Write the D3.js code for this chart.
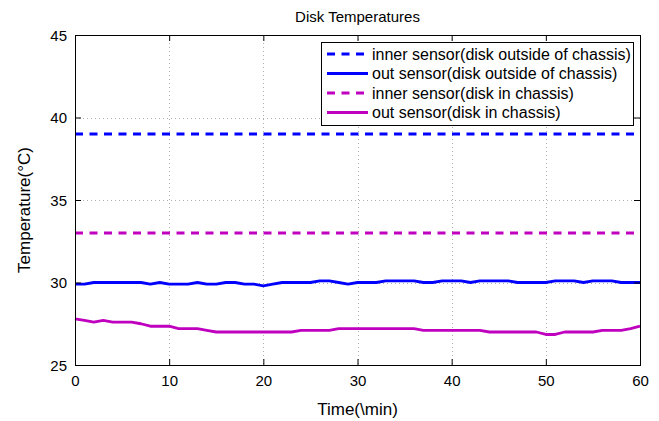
<!DOCTYPE html>
<html>
<head>
<meta charset="utf-8">
<script src="https://cdn.jsdelivr.net/npm/d3@7"></script>
<style>
  html, body { margin: 0; padding: 0; background: #fff; }
  svg { display: block; font-family: "Liberation Sans", Arial, Helvetica, sans-serif; }
</style>
</head>
<body>
<svg id="chart" width="659" height="421"></svg>
<script>
// Time axis (minutes) and sensor readings (°C), one reading per minute
const minutes = d3.range(0, 61);

const innerOutside = [
  39.0, 39.0, 39.0, 39.0, 39.0, 39.0, 39.0, 39.0, 39.0, 39.0,
  39.0, 39.0, 39.0, 39.0, 39.0, 39.0, 39.0, 39.0, 39.0, 39.0,
  39.0, 39.0, 39.0, 39.0, 39.0, 39.0, 39.0, 39.0, 39.0, 39.0,
  39.0, 39.0, 39.0, 39.0, 39.0, 39.0, 39.0, 39.0, 39.0, 39.0,
  39.0, 39.0, 39.0, 39.0, 39.0, 39.0, 39.0, 39.0, 39.0, 39.0,
  39.0, 39.0, 39.0, 39.0, 39.0, 39.0, 39.0, 39.0, 39.0, 39.0,
  39.0
];

const outOutside = [
  29.9, 29.9, 30.0, 30.0, 30.0, 30.0, 30.0, 30.0, 29.9, 30.0,
  29.9, 29.9, 29.9, 30.0, 29.9, 29.9, 30.0, 30.0, 29.9, 29.9,
  29.8, 29.9, 30.0, 30.0, 30.0, 30.0, 30.1, 30.1, 30.0, 29.9,
  30.0, 30.0, 30.0, 30.1, 30.1, 30.1, 30.1, 30.0, 30.0, 30.1,
  30.1, 30.1, 30.0, 30.1, 30.1, 30.1, 30.1, 30.0, 30.0, 30.0,
  30.0, 30.1, 30.1, 30.1, 30.0, 30.1, 30.1, 30.1, 30.0, 30.0,
  30.0
];

const innerChassis = [
  33.0, 33.0, 33.0, 33.0, 33.0, 33.0, 33.0, 33.0, 33.0, 33.0,
  33.0, 33.0, 33.0, 33.0, 33.0, 33.0, 33.0, 33.0, 33.0, 33.0,
  33.0, 33.0, 33.0, 33.0, 33.0, 33.0, 33.0, 33.0, 33.0, 33.0,
  33.0, 33.0, 33.0, 33.0, 33.0, 33.0, 33.0, 33.0, 33.0, 33.0,
  33.0, 33.0, 33.0, 33.0, 33.0, 33.0, 33.0, 33.0, 33.0, 33.0,
  33.0, 33.0, 33.0, 33.0, 33.0, 33.0, 33.0, 33.0, 33.0, 33.0,
  33.0
];

const outChassis = [
  27.8, 27.7, 27.6, 27.7, 27.6, 27.6, 27.6, 27.5, 27.35, 27.35,
  27.35, 27.2, 27.2, 27.2, 27.1, 27.0, 27.0, 27.0, 27.0, 27.0,
  27.0, 27.0, 27.0, 27.0, 27.1, 27.1, 27.1, 27.1, 27.2, 27.2,
  27.2, 27.2, 27.2, 27.2, 27.2, 27.2, 27.2, 27.1, 27.1, 27.1,
  27.1, 27.1, 27.1, 27.1, 27.0, 27.0, 27.0, 27.0, 27.0, 27.0,
  26.85, 26.85, 27.0, 27.0, 27.0, 27.0, 27.1, 27.1, 27.1, 27.2,
  27.35
];

const xTicks = [0, 10, 20, 30, 40, 50, 60];
const yTicks = [25, 30, 35, 40, 45];

const seriesNames = [
  "inner sensor(disk outside of chassis)",
  "out sensor(disk outside of chassis)",
  "inner sensor(disk in chassis)",
  "out sensor(disk in chassis)"
];
const seriesValues = [innerOutside, outOutside, innerChassis, outChassis];
const seriesColors = ["#0000ff", "#0000ff", "#bf00bf", "#bf00bf"];
const seriesDashed = [true, false, true, false];

// Layout
const plot = { left: 75, top: 35, right: 640, bottom: 365 };
const svg = d3.select("#chart");

const x = d3.scaleLinear().domain([0, 60]).range([plot.left, plot.right]);
const y = d3.scaleLinear().domain([25, 45]).range([plot.bottom, plot.top]);

// Dotted grid
const grid = svg.append("g").attr("stroke", "#b0b0b0").attr("stroke-width", 1)
  .attr("stroke-dasharray", "1,3");
grid.selectAll("line.vx").data(xTicks.slice(1, -1)).join("line")
  .attr("x1", d => Math.round(x(d)) + 0.5).attr("x2", d => Math.round(x(d)) + 0.5)
  .attr("y1", plot.top).attr("y2", plot.bottom);
grid.selectAll("line.hy").data(yTicks.slice(1, -1)).join("line")
  .attr("y1", d => Math.round(y(d)) + 0.5).attr("y2", d => Math.round(y(d)) + 0.5)
  .attr("x1", plot.left).attr("x2", plot.right);

// Series lines
const dash = "8,6.5";
const line = d3.line().x((d, i) => x(minutes[i])).y(d => y(d));
seriesValues.forEach((vals, k) => {
  svg.append("path")
    .datum(vals)
    .attr("d", line)
    .attr("fill", "none")
    .attr("stroke", seriesColors[k])
    .attr("stroke-width", 2.8)
    .attr("stroke-linejoin", "round")
    .attr("stroke-dasharray", seriesDashed[k] ? dash : null);
});

// Axes (ticks pointing inward, on all four sides)
const tickLen = 6;
const axB = svg.append("g").attr("transform", `translate(0,${plot.bottom})`)
  .call(d3.axisBottom(x).tickValues(xTicks).tickSize(-tickLen).tickPadding(10).tickSizeOuter(0));
const axT = svg.append("g").attr("transform", `translate(0,${plot.top})`)
  .call(d3.axisTop(x).tickValues(xTicks).tickSize(-tickLen).tickFormat("").tickSizeOuter(0));
const axL = svg.append("g").attr("transform", `translate(${plot.left},0)`)
  .call(d3.axisLeft(y).tickValues(yTicks).tickSize(-tickLen).tickPadding(8).tickSizeOuter(0));
const axR = svg.append("g").attr("transform", `translate(${plot.right},0)`)
  .call(d3.axisRight(y).tickValues(yTicks).tickSize(-tickLen).tickFormat("").tickSizeOuter(0));

[axB, axT, axL, axR].forEach(g => {
  g.select(".domain").remove();
  g.selectAll("line").attr("stroke", "#000");
  g.selectAll("text").attr("fill", "#000").attr("font-size", 15)
    .attr("font-family", "Liberation Sans, Arial, sans-serif");
});
axL.selectAll("text").attr("dy", "0.35em");

// Box
svg.append("rect")
  .attr("x", plot.left + 0.5).attr("y", plot.top + 0.5)
  .attr("width", plot.right - plot.left).attr("height", plot.bottom - plot.top)
  .attr("fill", "none").attr("stroke", "#000").attr("stroke-width", 1);

// Title and axis labels
svg.append("text").attr("x", (plot.left + plot.right) / 2).attr("y", 22)
  .attr("text-anchor", "middle").attr("font-size", 15).text("Disk Temperatures");
svg.append("text").attr("x", (plot.left + plot.right) / 2).attr("y", 415)
  .attr("text-anchor", "middle").attr("font-size", 17).text("Time(\\min)");
svg.append("text")
  .attr("transform", `translate(30,210) rotate(-90)`)
  .attr("text-anchor", "middle").attr("font-size", 17).text("Temperature(°C)");

// Legend
const lg = { x: 321, y: 42, w: 312, h: 83, rowH: 19.5 };
const legend = svg.append("g");
legend.append("rect")
  .attr("x", lg.x + 0.5).attr("y", lg.y + 0.5).attr("width", lg.w).attr("height", lg.h)
  .attr("fill", "#fff").attr("stroke", "#000").attr("stroke-width", 1);
seriesNames.forEach((name, k) => {
  const cy = lg.y + 12 + k * lg.rowH;
  legend.append("line")
    .attr("x1", lg.x + 6).attr("x2", lg.x + 47).attr("y1", cy).attr("y2", cy)
    .attr("stroke", seriesColors[k]).attr("stroke-width", 2.8)
    .attr("stroke-dasharray", seriesDashed[k] ? dash : null);
  legend.append("text")
    .attr("x", lg.x + 51).attr("y", cy).attr("dy", "0.35em")
    .attr("font-size", 16).text(name);
});
</script>
</body>
</html>
